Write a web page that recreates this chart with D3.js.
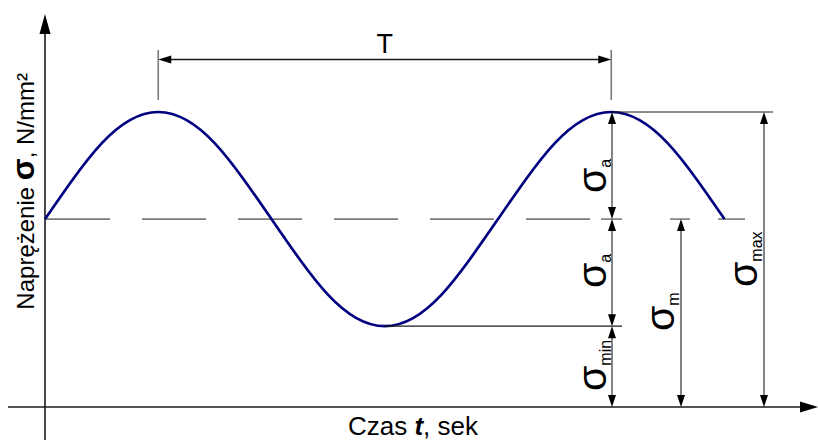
<!DOCTYPE html>
<html>
<head>
<meta charset="utf-8">
<script src="https://cdn.jsdelivr.net/npm/d3@7"></script>
<style>
  html, body { margin: 0; padding: 0; background: #fff; }
  svg { display: block; font-family: "Liberation Sans", Arial, sans-serif; }
</style>
</head>
<body>
<svg id="chart" width="818" height="444"></svg>
<script>
// Sampled cycle of stress over time (t in periods, sigma in N/mm²)
const timeSamples = [0, 0.0625, 0.125, 0.1875, 0.25, 0.3125, 0.375, 0.4375, 0.5,
  0.5625, 0.625, 0.6875, 0.75, 0.8125, 0.875, 0.9375, 1, 1.0625, 1.125, 1.1875,
  1.25, 1.3125, 1.375, 1.4375, 1.5];
const stressSamples = [93, 113, 130.5, 142, 146, 142, 130.5, 113, 93,
  73, 55.5, 44, 40, 44, 55.5, 73, 93, 113, 130.5, 142,
  146, 142, 130.5, 113, 93];

// Characteristic stresses of the cycle
const sigmaMax = 146;
const sigmaMin = 40;
const sigmaMean = 93;
const period = 1;
const peakTimes = [0.25, 1.25];
const troughTime = 0.75;

// Text
const yTitle = ["Naprężenie ", "σ", ", N/mm²"];
const xTitle = ["Czas ", "t", ", sek"];
const periodLabel = "T";
const stressLabels = [
  { key: "a1", main: "σ", sub: "a" },
  { key: "a2", main: "σ", sub: "a" },
  { key: "min", main: "σ", sub: "min" },
  { key: "m", main: "σ", sub: "m" },
  { key: "max", main: "σ", sub: "max" }
];

const svg = d3.select("#chart");

const x = d3.scaleLinear().domain([0, period]).range([45, 498]);
const y = d3.scaleLinear().domain([0, sigmaMax]).range([407, 112]);

const ink = "#1a1a1a";
const grey = "#7a7a7a";

function arrowHead(tx, ty, dir, len, hw) {
  // dir: "up", "down", "left", "right" — the way the tip points
  let p;
  if (dir === "up") p = [[tx, ty], [tx - hw, ty + len], [tx + hw, ty + len]];
  if (dir === "down") p = [[tx, ty], [tx - hw, ty - len], [tx + hw, ty - len]];
  if (dir === "left") p = [[tx, ty], [tx + len, ty - hw], [tx + len, ty + hw]];
  if (dir === "right") p = [[tx, ty], [tx - len, ty - hw], [tx - len, ty + hw]];
  svg.append("path").attr("d", "M" + p.map(d => d.join(",")).join("L") + "Z").attr("fill", "#000");
}

function line(x1, y1, x2, y2, color, w, dash) {
  const l = svg.append("line")
    .attr("x1", x1).attr("y1", y1).attr("x2", x2).attr("y2", y2)
    .attr("stroke", color).attr("stroke-width", w);
  if (dash) l.attr("stroke-dasharray", dash);
  return l;
}

// Axes
const x0 = x(0), y0 = y(0);
line(x0, 440, x0, 30, ink, 1.6);
arrowHead(x0, 14, "up", 20, 5.5);
line(8, y0, 802, y0, ink, 1.6);
arrowHead(818, y0, "right", 18, 5.5);

// Mean stress level (dashed) and short extension ticks
const yMean = y(sigmaMean);
line(x0 + 1, yMean, 590, yMean, grey, 1.6, "64,32");
[[601, 622], [670, 690], [718, 745]].forEach(s => line(s[0], yMean, s[1], yMean, grey, 1.6));

// Stress cycle curve
const curve = d3.line()
  .x((d, i) => x(timeSamples[i]))
  .y(d => y(d))
  .curve(d3.curveNatural);
svg.append("path")
  .attr("d", curve(stressSamples))
  .attr("fill", "none")
  .attr("stroke", "#000080")
  .attr("stroke-width", 2.7);

// Period dimension
const xp1 = x(peakTimes[0]), xp2 = x(peakTimes[1]);
line(xp1, 50, xp1, 100, grey, 1.6);
line(xp2, 50, xp2, 100, grey, 1.6);
const yT = 59.5;
line(xp1 + 10, yT, xp2 - 10, yT, ink, 1.3);
arrowHead(xp1, yT, "left", 13, 4);
arrowHead(xp2, yT, "right", 13, 4);
svg.append("text")
  .attr("x", (xp1 + xp2) / 2).attr("y", 53)
  .attr("text-anchor", "middle")
  .attr("font-size", 27)
  .attr("fill", "#000")
  .text(periodLabel);

// Extension lines from peak and trough
const yMax = y(sigmaMax), yMin = y(sigmaMin);
line(xp2, yMax, 773, yMax, ink, 1.2);
line(x(troughTime), yMin, 622, yMin, ink, 1.2);

// Vertical dimension arrows
const colA = 612, colM = 681, colMax = 764;
function dimension(cx, yTop, yBot) {
  line(cx, yTop + 8, cx, yBot - 8, "#333", 1.2);
  arrowHead(cx, yTop, "up", 12, 4);
  arrowHead(cx, yBot, "down", 12, 4);
}
dimension(colA, yMax, yMean);
dimension(colA, yMean, yMin);
dimension(colA, yMin, y0);
dimension(colM, yMean, y0);
dimension(colMax, yMax, y0);

// Rotated stress labels
const labelPos = {
  a1: [606, 193],
  a2: [606, 288],
  min: [606, 391],
  m: [674, 331],
  max: [757, 287]
};
stressLabels.forEach(d => {
  const p = labelPos[d.key];
  const t = svg.append("text")
    .attr("transform", `translate(${p[0]},${p[1]}) rotate(-90)`)
    .attr("fill", "#000");
  t.append("tspan").attr("font-size", 41).text(d.main);
  t.append("tspan").attr("font-size", 16).attr("dy", 5).text(d.sub);
});

// Axis titles
const yt = svg.append("text")
  .attr("transform", "translate(34,73) rotate(-90)")
  .attr("text-anchor", "end")
  .attr("font-size", 24)
  .attr("fill", "#000");
yt.append("tspan").text(yTitle[0]);
yt.append("tspan").attr("font-weight", "bold").attr("font-size", 32).text(yTitle[1]);
yt.append("tspan").text(yTitle[2]);

const xt = svg.append("text")
  .attr("x", 413).attr("y", 435)
  .attr("text-anchor", "middle")
  .attr("font-size", 26)
  .attr("fill", "#000");
xt.append("tspan").text(xTitle[0]);
xt.append("tspan").attr("font-weight", "bold").attr("font-style", "italic").text(xTitle[1]);
xt.append("tspan").text(xTitle[2]);
</script>
</body>
</html>
